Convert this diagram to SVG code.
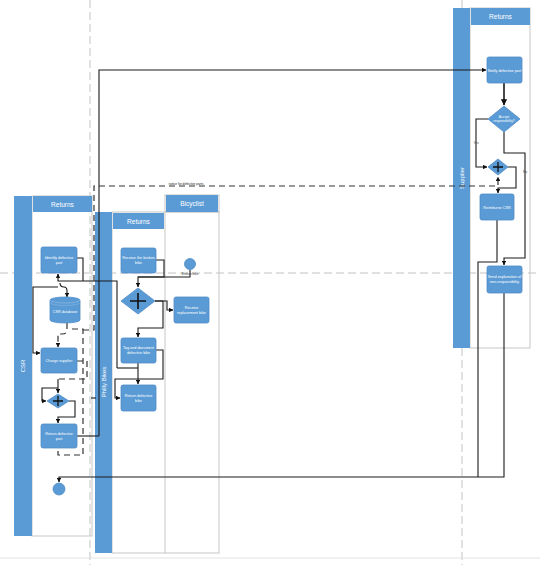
<svg xmlns="http://www.w3.org/2000/svg" width="540" height="565" viewBox="0 0 540 565">
<defs>
<marker id="ah" viewBox="0 0 6 6" refX="5.5" refY="3" markerWidth="4" markerHeight="4" orient="auto"><path d="M0,0 L6,3 L0,6 z" fill="#111"/></marker>
<style>
.guide{stroke:#b4b4b4;stroke-width:0.8;stroke-dasharray:8 4;fill:none}
.bar{fill:#5b9bd5}
.hdr{fill:#5b9bd5}
.lane{fill:none;stroke:#c6c6c6;stroke-width:1}
.box{fill:#5b9bd5;stroke:#4f8cc6;stroke-width:0.8}
.gw{fill:#5b9bd5;stroke:#4f8cc6;stroke-width:0.8}
.plus{stroke:#111;stroke-width:1.3;fill:none}
.t{font-family:"Liberation Sans",Arial,sans-serif;fill:#fff;text-anchor:middle}
.bt{font-size:3.8px}
.ht{font-size:6.5px}
.pt{font-size:6px}
.sm{font-family:"Liberation Sans",Arial,sans-serif;font-size:3.2px;fill:#444;text-anchor:middle}
.c{fill:none;stroke:#1a1a1a;stroke-width:1.1}
.ca{fill:none;stroke:#1a1a1a;stroke-width:1.1;marker-end:url(#ah)}
.d{fill:none;stroke:#333;stroke-width:1.2;stroke-dasharray:6 4}
.da{fill:none;stroke:#333;stroke-width:1.2;stroke-dasharray:6 4;marker-end:url(#ah)}
.ev{fill:#5b9bd5;stroke:#4f8cc6;stroke-width:0.8}
</style>
</defs>
<rect width="540" height="565" fill="#fff"/>
<g id="guides">
<line class="guide" x1="90" y1="0" x2="90" y2="565"/>
<line class="guide" x1="462" y1="0" x2="462" y2="565"/>
<line class="guide" x1="0" y1="273" x2="540" y2="273"/>
<line x1="0" y1="558" x2="540" y2="558" stroke="#dcdcdc" stroke-width="0.8"/>
</g>
<g id="pool-csr">
<rect class="lane" x="32" y="196" width="60" height="340"/>
<rect class="bar" x="14" y="196" width="18" height="340"/>
<rect class="hdr" x="33" y="196" width="59" height="16"/>
<text class="t ht" x="62.5" y="206.5">Returns</text>
<text class="t pt" transform="translate(25,366) rotate(-90)">CSR</text>
</g>
<g id="pool-philly">
<rect class="lane" x="112" y="212" width="107" height="341"/>
<line class="lane" x1="165" y1="212" x2="165" y2="553"/>
<rect class="lane" x="165" y="195" width="54" height="17"/>
<rect class="bar" x="95" y="212" width="17" height="341"/>
<rect class="hdr" x="113" y="213" width="51" height="16"/>
<text class="t ht" x="138.5" y="223.5">Returns</text>
<rect class="hdr" x="166" y="195" width="52" height="17"/>
<text class="t ht" x="192" y="205.5">Bicyclist</text>
<text class="t pt" transform="translate(105.5,382) rotate(-90)">Philly Bikes</text>
</g>
<g id="pool-supplier">
<rect class="lane" x="470" y="8" width="60" height="340"/>
<rect class="bar" x="453" y="8" width="17" height="340"/>
<rect class="hdr" x="471" y="8" width="59" height="17"/>
<text class="t ht" x="500.5" y="18.5">Returns</text>
<text class="t pt" transform="translate(464,178) rotate(-90)">Supplier</text>
</g>
<g id="connectors">
<path class="c" d="M77,258 H83 V281"/>
<path class="ca" d="M117,368 V281 H58 V274"/>
<path class="ca" d="M60,283 Q60,287 64,287 Q67,287 67,291 V297"/>
<path class="ca" d="M58,287 H33 V353 H40"/>
<path class="da" d="M67,323 V330 Q67,334 62,334 H58 V347"/>
<path class="d" d="M72,329 H83 V455 H58 V450"/>
<path class="d" d="M77,361 H87 V379 H58"/>
<path class="ca" d="M58,379 V393"/>
<path class="ca" d="M58,388 H42 V401 H46"/>
<path class="ca" d="M69,401 H75 V417 H58 V423"/>
<path class="c" d="M77,436 H99"/>
<path class="ca" d="M99,436 V70 H486"/>
<path class="da" d="M83,330 H94 V186 H498 V177"/>
<text class="sm" x="186" y="185" style="fill:#222">notice for defective parts</text>
<path class="c" d="M190,270 V277 H138"/>
<path class="ca" d="M156,260 H164 V277 H138 V287"/>
<text class="sm" x="190" y="275">Broken bike</text>
<path class="ca" d="M155,301 H167 V310 H173"/>
<path class="ca" d="M155,301 H163 V328 H138 V337"/>
<path class="c" d="M117,368 H138"/>
<path class="ca" d="M138,363 V384"/>
<path class="ca" d="M156,350 H163 V379 H115 V398 H120"/>
<path class="c" d="M91,398 H96"/>
<path class="ca" d="M504,83 V105" style="stroke-width:1.6"/>
<path class="ca" d="M488,119 H476 V167 H487"/>
<text class="sm" x="476" y="144">Yes</text>
<path class="ca" d="M504,132 V153 H525 V258 H504 V265"/>
<text class="sm" x="525" y="173">No</text>
<path class="ca" d="M508,167 H516 V188 H498 V193"/>
<path class="c" d="M497,220 V262 H478 V477"/>
<path class="ca" d="M504,293 V477 H59 V482"/>
</g>
<g id="n-identify"><rect class="box" x="41" y="247" width="36" height="26" rx="2"/><text class="t bt" x="59" y="259">Identify defective</text><text class="t bt" x="59" y="264">part</text></g>
<g id="n-csrdb"><path class="box" d="M50,300 A15,3 0 0 1 80,300 V320 A15,3 0 0 1 50,320 Z"/><path d="M50,300 A15,3 0 0 0 80,300" fill="none" stroke="#8ab6e0" stroke-width="0.8"/><path d="M50,302.5 A15,3 0 0 0 80,302.5" fill="none" stroke="#8ab6e0" stroke-width="0.6"/><text class="t bt" x="65" y="313">CSR database</text></g>
<g id="n-charge"><rect class="box" x="41" y="348" width="36" height="25" rx="2"/><text class="t bt" x="59" y="362">Charge supplier</text></g>
<g id="n-gw-csr"><path class="gw" d="M58,394 L69,401 L58,408 L47,401 Z"/><path class="plus" d="M53,401 H63 M58,396 V406"/></g>
<g id="n-returnpart"><rect class="box" x="41" y="424" width="36" height="24" rx="2"/><text class="t bt" x="59" y="435">Return defective</text><text class="t bt" x="59" y="440">part</text></g>
<g id="n-end"><circle class="ev" cx="59" cy="489" r="6"/></g>
<g id="n-receivebroken"><rect class="box" x="121" y="248" width="35" height="25" rx="2"/><text class="t bt" x="138.5" y="259">Receive the broken</text><text class="t bt" x="138.5" y="264">bike</text></g>
<g id="n-start"><circle class="ev" cx="190" cy="264" r="5.5"/></g>
<g id="n-gw-philly"><path class="gw" d="M138,288 L155,301 L138,314 L121,301 Z"/><path class="plus" d="M130,301 H146 M138,293 V309" style="stroke-width:1.6"/></g>
<g id="n-replacement"><rect class="box" x="174" y="297" width="35" height="26" rx="2"/><text class="t bt" x="191.5" y="308.5">Receive</text><text class="t bt" x="191.5" y="313.5">replacement bike</text></g>
<g id="n-tag"><rect class="box" x="121" y="338" width="35" height="25" rx="2"/><text class="t bt" x="138.5" y="349">Tag and document</text><text class="t bt" x="138.5" y="354">defective bike</text></g>
<g id="n-returnbike"><rect class="box" x="121" y="385" width="35" height="26" rx="2"/><text class="t bt" x="138.5" y="396.5">Return defective</text><text class="t bt" x="138.5" y="401.5">bike</text></g>
<g id="n-notify"><rect class="box" x="487" y="57" width="35" height="26" rx="2"/><text class="t bt" x="504.5" y="71.5">Notify defective part</text></g>
<g id="n-accept"><path class="gw" d="M504,106 L520,119 L504,132 L488,119 Z"/><text class="t" style="font-size:3.4px" x="504" y="118">Accept</text><text class="t" style="font-size:3.4px" x="504" y="122">responsibility?</text></g>
<g id="n-gw-supplier"><path class="gw" d="M498,159 L508,167 L498,175 L488,167 Z"/><path class="plus" d="M493,167 H503 M498,162 V172"/></g>
<g id="n-reimburse"><rect class="box" x="480" y="194" width="34" height="26" rx="2"/><text class="t bt" x="497" y="208.5">Reimburse CSR</text></g>
<g id="n-explain"><rect class="box" x="487" y="266" width="35" height="27" rx="2"/><text class="t bt" x="504.5" y="278">Send explanation of</text><text class="t bt" x="504.5" y="283">non-responsibility</text></g>
</svg>
